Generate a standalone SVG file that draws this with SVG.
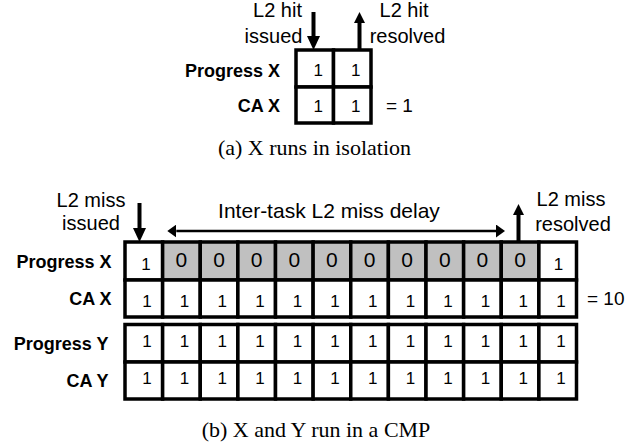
<svg xmlns="http://www.w3.org/2000/svg" width="644" height="442" viewBox="0 0 644 442">
<style>
.bg{fill:#ffffff}
.cell{fill:#ffffff;stroke:#000;stroke-width:3.5}
.gray{fill:#c0c0c0;stroke:#000;stroke-width:3.5}
.lbl{font-family:"Liberation Sans",Arial,sans-serif;font-size:18px;font-weight:bold;text-anchor:end;fill:#000}
.txt{font-family:"Liberation Sans",Arial,sans-serif;font-size:20px;text-anchor:middle;fill:#000}
.eq{font-family:"Liberation Sans",Arial,sans-serif;font-size:19px;fill:#000}
.one{font-family:"Liberation Sans",Arial,sans-serif;font-size:17px;text-anchor:middle;fill:#000}
.zero{font-family:"Liberation Sans",Arial,sans-serif;font-size:21px;text-anchor:middle;fill:#000}
.cap{font-family:"Liberation Serif","Times New Roman",serif;font-size:22px;text-anchor:middle;fill:#000}
.shaft{stroke:#000;stroke-width:4;fill:none}
.thin{stroke:#000;stroke-width:2.5;fill:none}
</style>
<defs>
<marker id="head-lg" viewBox="0 0 14 13" refX="0" refY="6.5" markerWidth="14" markerHeight="13" markerUnits="userSpaceOnUse" orient="auto"><path d="M0,0 L14,6.5 L0,13 z" fill="#000"/></marker>
<marker id="head-sm" viewBox="0 0 11 11" refX="0" refY="5.5" markerWidth="11" markerHeight="11" markerUnits="userSpaceOnUse" orient="auto"><path d="M0,0 L11,5.5 L0,11 z" fill="#000"/></marker>
<marker id="head-thin" viewBox="0 0 9 13" refX="0" refY="6.5" markerWidth="9" markerHeight="13" markerUnits="userSpaceOnUse" orient="auto-start-reverse"><path d="M0,0 L9,6.5 L0,13 z" fill="#000"/></marker>
</defs>
<rect class="bg" x="0" y="0" width="644" height="442"/>

<!-- (a) X runs in isolation -->
<g id="a-labels">
<text class="txt" x="277.5" y="17">L2 hit</text>
<text class="txt" x="273.5" y="43">issued</text>
<text class="txt" x="404" y="17">L2 hit</text>
<text class="txt" x="407.5" y="43">resolved</text>
</g>
<g id="a-progress-x">
<text class="lbl" x="280" y="76.5">Progress X</text>
<rect class="cell" x="296" y="50" width="37.5" height="37"/>
<rect class="cell" x="333.5" y="50" width="37.5" height="37"/>
<text class="one" x="318.3" y="76">1</text>
<text class="one" x="355.8" y="76">1</text>
</g>
<g id="a-ca-x">
<text class="lbl" x="280" y="111.5">CA X</text>
<rect class="cell" x="296" y="87" width="37.5" height="36"/>
<rect class="cell" x="333.5" y="87" width="37.5" height="36"/>
<text class="one" x="318.3" y="111.5">1</text>
<text class="one" x="355.8" y="111.5">1</text>
<text class="eq" x="386" y="111.5">= 1</text>
</g>
<text class="cap" x="314.5" y="155">(a) X runs in isolation</text>

<!-- (b) X and Y run in a CMP -->
<g id="b-labels">
<text class="txt" x="91" y="207">L2 miss</text>
<text class="txt" x="91" y="230">issued</text>
<text class="txt" x="329" y="218" style="font-size:21px">Inter-task L2 miss delay</text>
<text class="txt" x="571" y="206">L2 miss</text>
<text class="txt" x="573" y="231">resolved</text>
</g>

<g id="b-progress-x">
<text class="lbl" x="111.5" y="267.5">Progress X</text>
<rect class="cell" x="125" y="242" width="37.625" height="38"/>
<rect class="gray" x="162.625" y="242" width="37.625" height="38"/>
<rect class="gray" x="200.25" y="242" width="37.625" height="38"/>
<rect class="gray" x="237.875" y="242" width="37.625" height="38"/>
<rect class="gray" x="275.5" y="242" width="37.625" height="38"/>
<rect class="gray" x="313.125" y="242" width="37.625" height="38"/>
<rect class="gray" x="350.75" y="242" width="37.625" height="38"/>
<rect class="gray" x="388.375" y="242" width="37.625" height="38"/>
<rect class="gray" x="426" y="242" width="37.625" height="38"/>
<rect class="gray" x="463.625" y="242" width="37.625" height="38"/>
<rect class="gray" x="501.25" y="242" width="37.625" height="38"/>
<rect class="cell" x="538.875" y="242" width="37.625" height="38"/>
<text class="one" x="146" y="270">1</text>
<text class="zero" x="181.4" y="266.5">0</text>
<text class="zero" x="219" y="266.5">0</text>
<text class="zero" x="256.7" y="266.5">0</text>
<text class="zero" x="294.3" y="266.5">0</text>
<text class="zero" x="331.9" y="266.5">0</text>
<text class="zero" x="369.6" y="266.5">0</text>
<text class="zero" x="407.2" y="266.5">0</text>
<text class="zero" x="444.8" y="266.5">0</text>
<text class="zero" x="482.4" y="266.5">0</text>
<text class="zero" x="520.1" y="266.5">0</text>
<text class="one" x="558.5" y="270">1</text>
</g>

<g id="b-ca-x">
<text class="lbl" x="111.5" y="305">CA X</text>
<rect class="cell" x="125" y="280" width="37.625" height="37"/>
<rect class="cell" x="162.625" y="280" width="37.625" height="37"/>
<rect class="cell" x="200.25" y="280" width="37.625" height="37"/>
<rect class="cell" x="237.875" y="280" width="37.625" height="37"/>
<rect class="cell" x="275.5" y="280" width="37.625" height="37"/>
<rect class="cell" x="313.125" y="280" width="37.625" height="37"/>
<rect class="cell" x="350.75" y="280" width="37.625" height="37"/>
<rect class="cell" x="388.375" y="280" width="37.625" height="37"/>
<rect class="cell" x="426" y="280" width="37.625" height="37"/>
<rect class="cell" x="463.625" y="280" width="37.625" height="37"/>
<rect class="cell" x="501.25" y="280" width="37.625" height="37"/>
<rect class="cell" x="538.875" y="280" width="37.625" height="37"/>
<text class="one" x="147" y="306.5">1</text>
<text class="one" x="184.6" y="306.5">1</text>
<text class="one" x="222.2" y="306.5">1</text>
<text class="one" x="259.9" y="306.5">1</text>
<text class="one" x="297.5" y="306.5">1</text>
<text class="one" x="335.1" y="306.5">1</text>
<text class="one" x="372.7" y="306.5">1</text>
<text class="one" x="410.4" y="306.5">1</text>
<text class="one" x="448" y="306.5">1</text>
<text class="one" x="485.6" y="306.5">1</text>
<text class="one" x="523.3" y="306.5">1</text>
<text class="one" x="560.9" y="306.5">1</text>
<text class="eq" x="587" y="305">= 10</text>
</g>

<g id="b-progress-y">
<text class="lbl" x="108.5" y="349.5">Progress Y</text>
<rect class="cell" x="125" y="324.5" width="37.625" height="37.5"/>
<rect class="cell" x="162.625" y="324.5" width="37.625" height="37.5"/>
<rect class="cell" x="200.25" y="324.5" width="37.625" height="37.5"/>
<rect class="cell" x="237.875" y="324.5" width="37.625" height="37.5"/>
<rect class="cell" x="275.5" y="324.5" width="37.625" height="37.5"/>
<rect class="cell" x="313.125" y="324.5" width="37.625" height="37.5"/>
<rect class="cell" x="350.75" y="324.5" width="37.625" height="37.5"/>
<rect class="cell" x="388.375" y="324.5" width="37.625" height="37.5"/>
<rect class="cell" x="426" y="324.5" width="37.625" height="37.5"/>
<rect class="cell" x="463.625" y="324.5" width="37.625" height="37.5"/>
<rect class="cell" x="501.25" y="324.5" width="37.625" height="37.5"/>
<rect class="cell" x="538.875" y="324.5" width="37.625" height="37.5"/>
<text class="one" x="147" y="347">1</text>
<text class="one" x="184.6" y="347">1</text>
<text class="one" x="222.2" y="347">1</text>
<text class="one" x="259.9" y="347">1</text>
<text class="one" x="297.5" y="347">1</text>
<text class="one" x="335.1" y="347">1</text>
<text class="one" x="372.7" y="347">1</text>
<text class="one" x="410.4" y="347">1</text>
<text class="one" x="448" y="347">1</text>
<text class="one" x="485.6" y="347">1</text>
<text class="one" x="523.3" y="347">1</text>
<text class="one" x="560.9" y="347">1</text>
</g>

<g id="b-ca-y">
<text class="lbl" x="108.5" y="387">CA Y</text>
<rect class="cell" x="125" y="362" width="37.625" height="37"/>
<rect class="cell" x="162.625" y="362" width="37.625" height="37"/>
<rect class="cell" x="200.25" y="362" width="37.625" height="37"/>
<rect class="cell" x="237.875" y="362" width="37.625" height="37"/>
<rect class="cell" x="275.5" y="362" width="37.625" height="37"/>
<rect class="cell" x="313.125" y="362" width="37.625" height="37"/>
<rect class="cell" x="350.75" y="362" width="37.625" height="37"/>
<rect class="cell" x="388.375" y="362" width="37.625" height="37"/>
<rect class="cell" x="426" y="362" width="37.625" height="37"/>
<rect class="cell" x="463.625" y="362" width="37.625" height="37"/>
<rect class="cell" x="501.25" y="362" width="37.625" height="37"/>
<rect class="cell" x="538.875" y="362" width="37.625" height="37"/>
<text class="one" x="147" y="383.5">1</text>
<text class="one" x="184.6" y="383.5">1</text>
<text class="one" x="222.2" y="383.5">1</text>
<text class="one" x="259.9" y="383.5">1</text>
<text class="one" x="297.5" y="383.5">1</text>
<text class="one" x="335.1" y="383.5">1</text>
<text class="one" x="372.7" y="383.5">1</text>
<text class="one" x="410.4" y="383.5">1</text>
<text class="one" x="448" y="383.5">1</text>
<text class="one" x="485.6" y="383.5">1</text>
<text class="one" x="523.3" y="383.5">1</text>
<text class="one" x="560.9" y="383.5">1</text>
</g>

<text class="cap" x="316" y="437">(b) X and Y run in a CMP</text>

<g id="connectors">
<line class="shaft" x1="313.5" y1="12" x2="313.5" y2="36" marker-end="url(#head-lg)"/>
<line class="shaft" x1="359.5" y1="50" x2="359.5" y2="23" marker-end="url(#head-sm)"/>
<line class="shaft" x1="139.5" y1="203" x2="139.5" y2="228" marker-end="url(#head-lg)"/>
<line class="shaft" x1="518.5" y1="241" x2="518.5" y2="215" marker-end="url(#head-sm)"/>
<line class="thin" x1="176.3" y1="231" x2="496" y2="231" marker-start="url(#head-thin)" marker-end="url(#head-thin)"/>
</g>
</svg>
